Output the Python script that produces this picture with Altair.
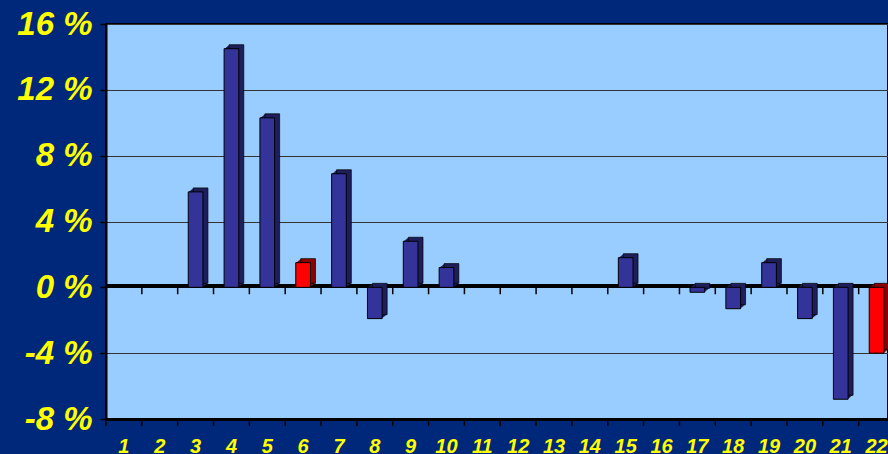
import altair as alt
import pandas as pd

# Period numbers along the x axis and the percentage change for each period
periods = [str(i) for i in range(1, 23)]
changes = [0, 0, 5.8, 14.5, 10.3, 1.5, 6.9, -1.9, 2.8, 1.2, 0, 0, 0, 0,
           1.8, 0, -0.3, -1.3, 1.5, -1.9, -6.8, -4.0]
highlighted = ["6", "22"]
y_ticks = [-8, -4, 0, 4, 8, 12, 16]

df = pd.DataFrame({"period": periods, "change": changes})
df["face"] = ["#FF0000" if p in highlighted else "#333399" for p in periods]
df["side"] = ["#8C0000" if p in highlighted else "#1E1E5A" for p in periods]
bars_df = df[df["change"] != 0]

LABEL_FONT = "Liberation Sans"
YELLOW = "#FFFF00"
STEP = 788.5 / 22  # width of one period slot in pixels

x_scale = alt.Scale(domain=periods, range=[0, 788.5], paddingInner=0.59, paddingOuter=0.295)
y_scale = alt.Scale(domain=[-8, 16], nice=False, zero=False)

x_axis = alt.Axis(
    title=None, labelAngle=0, labelColor=YELLOW, labelFont=LABEL_FONT,
    labelFontSize=20, labelFontWeight="bold", labelFontStyle="italic",
    labelPadding=17, ticks=False, domainColor="black", domainWidth=3,
)
y_axis = alt.Axis(
    title=None, values=y_ticks, labelExpr="datum.value + ' %'",
    labelColor=YELLOW, labelFont=LABEL_FONT, labelFontSize=33,
    labelFontWeight="bold", labelFontStyle="italic", labelPadding=8,
    tickColor="black", tickSize=6, tickWidth=1.5, domainColor="black",
    domainWidth=2, grid=True, gridColor="#333333", gridWidth=1,
)

X = alt.X("period:O", scale=x_scale, axis=x_axis, sort=periods)
Y = alt.Y("change:Q", scale=y_scale, axis=y_axis)

# Heavy zero line across the plot
zero_line = alt.Chart(df).mark_rule(color="black", strokeWidth=3, yOffset=-1.5).encode(
    y=alt.datum(0)
)


def boundary_ticks(level):
    """Short ticks hanging below a horizontal line at each period boundary."""
    return alt.Chart(df).mark_rule(color="black", strokeWidth=1.5, xOffset=-STEP / 2).encode(
        x=X, y=alt.datum(level), y2=alt.datum(level - 0.42)
    )


# Depth of the 3D bars: a stack of shifted copies behind the front face
depth_layers = []
for k in range(1, 6):
    props = {"xOffset": k, "yOffset": -0.8 * k}
    if k == 5:
        props.update(stroke="black", strokeWidth=0.7)
    depth_layers.append(
        alt.Chart(bars_df).mark_bar(**props).encode(
            x=X, y=Y, color=alt.Color("side:N", scale=None)
        )
    )

# Front faces
bar_front = alt.Chart(bars_df).mark_bar(stroke="black", strokeWidth=1).encode(
    x=X, y=Y, color=alt.Color("face:N", scale=None)
)

chart = (
    alt.layer(zero_line, boundary_ticks(0), boundary_ticks(-8), *depth_layers, bar_front)
    .properties(
        width=782, height=395,
        autosize=alt.AutoSizeParams(type="none"),
        padding={"left": 106, "top": 24, "right": 0, "bottom": 35},
        background="#00287A",
    )
    .configure_view(fill="#99CCFF", stroke="black", strokeWidth=2)
)

chart.save("out.html", embed_options={"renderer": "svg", "actions": False})
